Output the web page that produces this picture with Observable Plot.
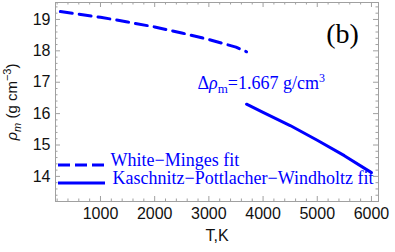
<!DOCTYPE html>
<html><head><meta charset="utf-8">
<script src="https://cdn.jsdelivr.net/npm/d3@7"></script>
<script src="https://cdn.jsdelivr.net/npm/@observablehq/plot@0.6"></script>
<style>body{margin:0;background:#fff}</style>
</head><body><div id="chart"></div>
<script>
// ---- data ----
const wmT   = [260, 1000, 1500, 2000, 2500, 3000, 3500, 3695];
const wmRho = [19.25, 19.07, 18.92, 18.76, 18.57, 18.36, 18.12, 17.97];
const kpwT   = [3695, 4000, 4500, 5000, 5500, 6000];
const kpwRho = [16.30, 16.04, 15.62, 15.15, 14.66, 14.12];
const xMajor = [1000, 2000, 3000, 4000, 5000, 6000];
const yMajor = [14, 15, 16, 17, 18, 19];
const seriesNames = ["White\u2212Minges fit", "Kaschnitz\u2212Pottlacher\u2212Windholtz fit"];
const annotation = "\u0394\u03c1m=1.667 g/cm3";
const panelLabel = "(b)";
const xLabel = "T,K";
const yLabel = "\u03c1m (g cm\u22123)";

// ---- layout ----
const W = 395, H = 252, mL = 55, mR = 17, mT = 2, mB = 51;
const fw = W - mL - mR, fh = H - mT - mB;
const blue = "#0000ff", gray = "#a0a0a0";
const xMinor = d3.range(1, 31).map(i => i * 200).filter(v => !xMajor.includes(v));
const yMinor = d3.range(66, 98).map(i => i / 5).filter(v => !yMajor.includes(v));

const wm = wmT.map((T, i) => ({T, rho: wmRho[i]}));
const kpw = kpwT.map((T, i) => ({T, rho: kpwRho[i]}));
const serif = "Liberation Serif, Times New Roman, serif";

const chart = Plot.plot({
  width: W, height: H,
  marginLeft: mL, marginRight: mR, marginTop: mT, marginBottom: mB,
  style: {fontFamily: "Liberation Sans, Arial, sans-serif", fontSize: "16px", color: "#111", background: "#fff"},
  x: {domain: [170, 6130], ticks: xMajor, tickSize: 0, tickPadding: 6, label: null, tickFormat: d => String(d)},
  y: {domain: [13.2, 19.54], ticks: yMajor, tickSize: 0, tickPadding: 5, label: null, tickFormat: d => String(d)},
  marks: [
    Plot.frame({stroke: gray}),
    Plot.tickX(xMajor, {x: d => d, insetTop: fh - 5, stroke: gray}),
    Plot.tickX(xMajor, {x: d => d, insetBottom: fh - 5, stroke: gray}),
    Plot.tickX(xMinor, {x: d => d, insetTop: fh - 2.5, stroke: gray}),
    Plot.tickX(xMinor, {x: d => d, insetBottom: fh - 2.5, stroke: gray}),
    Plot.tickY(yMajor, {y: d => d, insetRight: fw - 5, stroke: gray}),
    Plot.tickY(yMajor, {y: d => d, insetLeft: fw - 5, stroke: gray}),
    Plot.tickY(yMinor, {y: d => d, insetRight: fw - 2.5, stroke: gray}),
    Plot.tickY(yMinor, {y: d => d, insetLeft: fw - 2.5, stroke: gray}),
    Plot.line(wm, {x: "T", y: "rho", stroke: blue, strokeWidth: 3, strokeDasharray: "12,7"}),
    Plot.line(kpw, {x: "T", y: "rho", stroke: blue, strokeWidth: 3}),
    Plot.text([annotation], {text: d => d, frameAnchor: "top-left", dx: 142, dy: 74, textAnchor: "start", fill: blue, fontSize: 18, fontFamily: serif}),
    Plot.text([panelLabel], {text: d => d, frameAnchor: "top-right", dx: -36, dy: 21, textAnchor: "middle", fill: "#000", fontSize: 28, fontFamily: serif}),
    Plot.text([seriesNames[0]], {text: d => d, frameAnchor: "bottom-left", dx: 55, dy: -36, textAnchor: "start", fill: blue, fontSize: 18, fontFamily: serif}),
    Plot.text([seriesNames[1]], {text: d => d, frameAnchor: "bottom-left", dx: 57, dy: -18, textAnchor: "start", fill: blue, fontSize: 18, fontFamily: serif}),
    Plot.text([xLabel], {text: d => d, frameAnchor: "bottom", dy: 39, textAnchor: "middle", fill: "#111", fontSize: 16}),
    Plot.text([yLabel], {text: d => d, frameAnchor: "left", dx: -43, dy: 0, rotate: -90, textAnchor: "middle", fill: "#111", fontSize: 15})
  ]
});
document.getElementById("chart").appendChild(chart);

// ---- rich text (sub/superscripts) ----
function rich(str, parts) {
  d3.select(chart).selectAll("text").filter(function() { return this.textContent === str; })
    .each(function() {
      const el = d3.select(this);
      el.text(null);
      parts.forEach(p => {
        const t = el.append("tspan").text(p.t);
        if (p.italic) t.attr("font-style", "italic");
        if (p.size) t.attr("font-size", p.size);
        if (p.shift) t.attr("baseline-shift", p.shift);
      });
    });
}
rich(annotation, [
  {t: "\u0394"}, {t: "\u03c1", italic: true}, {t: "m", size: 13, shift: -4}, {t: "=1.667 g/cm"}, {t: "3", size: 12, shift: 7}
]);
rich(yLabel, [
  {t: "\u03c1", italic: true}, {t: "m", italic: true, size: 11, shift: -4}, {t: " (g cm"}, {t: "\u22123", size: 11, shift: 6}, {t: ")"}
]);

// ---- legend samples ----
const lg = d3.select(chart).append("g").attr("stroke", blue).attr("stroke-width", 3);
lg.append("line").attr("x1", mL + 3).attr("x2", mL + 50).attr("y1", mT + fh - 36).attr("y2", mT + fh - 36).attr("stroke-dasharray", "12,5");
lg.append("line").attr("x1", mL + 3).attr("x2", mL + 50).attr("y1", mT + fh - 18).attr("y2", mT + fh - 18);
</script>
</body></html>
